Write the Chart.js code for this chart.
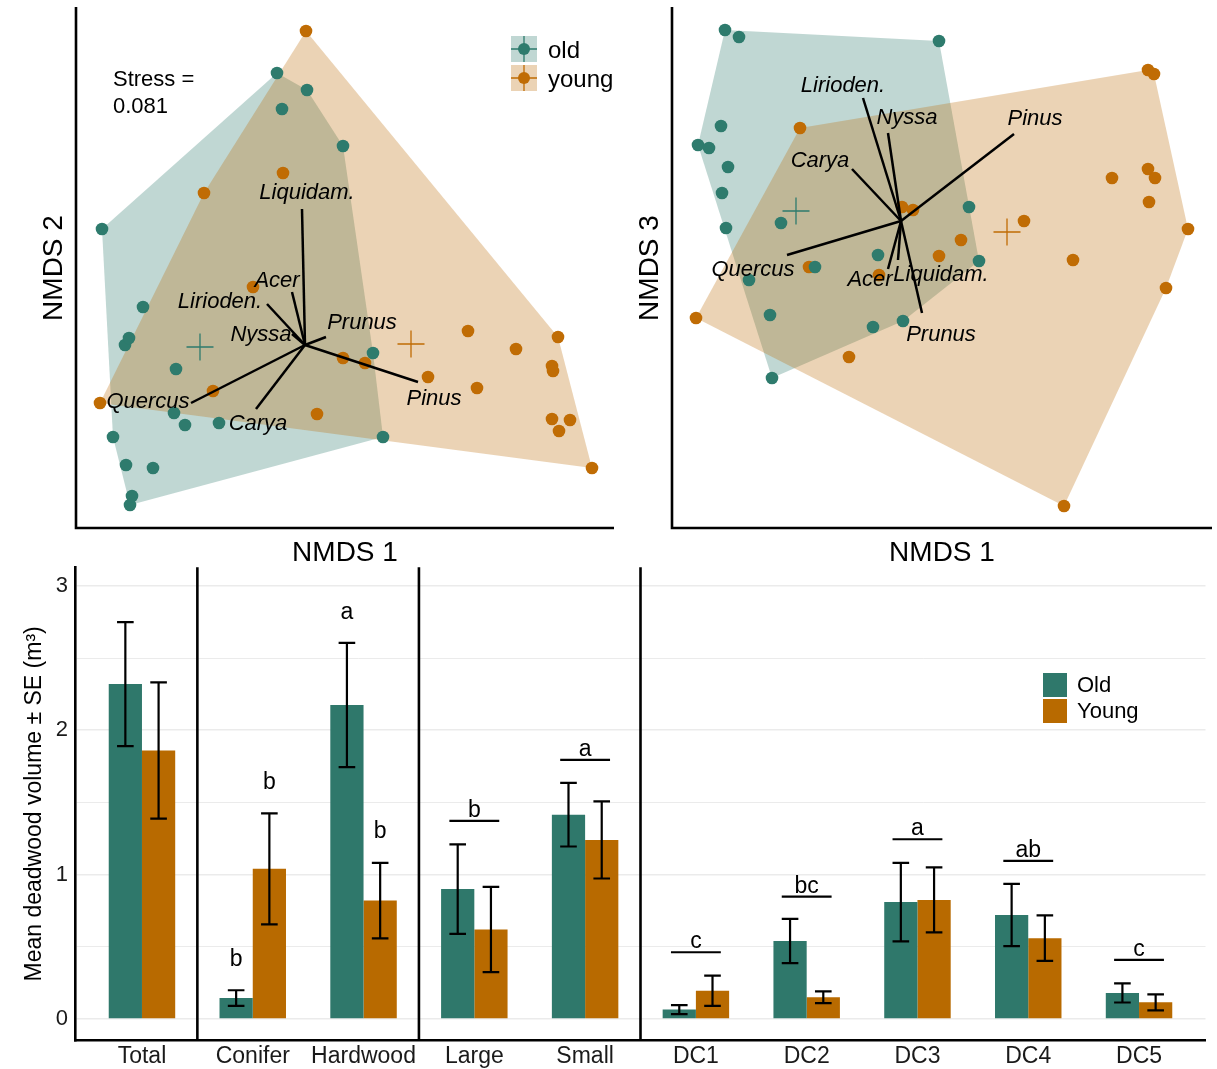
<!DOCTYPE html>
<html>
<head>
<meta charset="utf-8">
<title>Deadwood: NMDS ordination and mean volume</title>
<script src="https://cdn.jsdelivr.net/npm/chart.js@4.4.1/dist/chart.umd.min.js"></script>
<style>
  html, body { margin: 0; padding: 0; background: #fff; }
  body { position: relative; width: 1217px; height: 1069px; overflow: hidden; }
  .panel { position: absolute; }
</style>
</head>
<body>
<div class="panel" style="left:0;top:0;width:620px;height:580px"><canvas id="nmdsA"></canvas></div>
<div class="panel" style="left:596px;top:0;width:621px;height:580px"><canvas id="nmdsB"></canvas></div>
<div class="panel" style="left:0;top:560px;width:1217px;height:509px"><canvas id="bars"></canvas></div>
<script>
// NMDS site scores, old stands
const oldNmds1 = [-1.015, -0.96, -0.90, -0.895, -0.88, -0.875, -0.865, -0.81, -0.76, -0.655, -0.645, -0.60, -0.43, -0.14, -0.115, 0.01, 0.19, 0.34, 0.39];
const oldNmds2 = [0.58, -0.46, 0.0, -0.60, 0.035, -0.80, -0.755, 0.19, -0.615, -0.34, -0.12, -0.40, -0.39, 1.36, 1.18, 1.275, 0.995, -0.04, -0.46];
const oldNmds3 = [0.38, 0.365, 0.475, 0.14, 0.955, -0.035, 0.27, 0.92, -0.295, -0.47, -0.785, -0.01, -0.23, -0.53, -0.17, -0.50, 0.90, 0.07, -0.20];

// NMDS site scores, young stands
const youngNmds1 = [-1.025, -0.505, -0.46, -0.26, -0.11, 0.005, 0.06, 0.19, 0.30, 0.615, 0.815, 0.86, 1.055, 1.235, 1.24, 1.235, 1.265, 1.27, 1.325, 1.435];
const youngNmds2 = [-0.29, 0.76, -0.23, 0.29, 0.86, 1.57, -0.345, -0.065, -0.09, -0.16, 0.07, -0.215, -0.02, -0.105, -0.13, -0.37, 0.04, -0.43, -0.375, -0.615];
const youngNmds3 = [-0.485, 0.465, -0.23, -0.68, -0.27, 0.07, 0.055, -0.175, -0.095, 0.0, -1.425, -0.195, 0.215, 0.755, 0.095, 0.26, 0.735, 0.215, -0.335, -0.04];

// group centroids [old, young]
const centNmds1 = [-0.525, 0.53];
const centNmds2 = [-0.01, 0.005];
const centNmds3 = [0.05, -0.055];

// species vectors
const vecNames = ['Liquidam.', 'Acer', 'Lirioden.', 'Nyssa', 'Prunus', 'Pinus', 'Quercus', 'Carya'];
const vecNmds1 = [-0.015, -0.065, -0.19, -0.065, 0.105, 0.565, -0.57, -0.245];
const vecNmds2 = [0.68, 0.265, 0.205, 0.055, 0.04, -0.185, -0.29, -0.32];
const vecNmds3 = [-0.195, -0.24, 0.615, 0.44, -0.46, 0.435, -0.17, 0.26];
// where the species names sit in each panel
const labA1 = [0.01, -0.14, -0.425, -0.22, 0.285, 0.645, -0.785, -0.235];
const labA2 = [0.76, 0.32, 0.215, 0.05, 0.11, -0.27, -0.285, -0.395];
const labB1 = [0.20, -0.155, -0.29, 0.03, 0.20, 0.67, -0.74, -0.405];
const labB3 = [-0.27, -0.295, 0.675, 0.515, -0.57, 0.51, -0.245, 0.30];

// bar chart
const barCats = ['Total', 'Conifer', 'Hardwood', 'Large', 'Small', 'DC1', 'DC2', 'DC3', 'DC4', 'DC5'];
const oldMean = [2.32, 0.145, 2.175, 0.90, 1.415, 0.065, 0.54, 0.81, 0.72, 0.18];
const oldSE = [0.43, 0.054, 0.43, 0.31, 0.22, 0.031, 0.153, 0.272, 0.216, 0.066];
const youngMean = [1.86, 1.04, 0.82, 0.62, 1.24, 0.195, 0.15, 0.825, 0.56, 0.115];
const youngSE = [0.472, 0.385, 0.262, 0.295, 0.267, 0.105, 0.041, 0.225, 0.157, 0.055];
const yTicks = [0, 0.5, 1, 1.5, 2, 2.5, 3];
const dividers = [1.5, 3.5, 5.5];

// letters over single bars (category no., 0 = old / 1 = young, letter, baseline)
const barLetterCat = [2, 2, 3, 3];
const barLetterSeries = [0, 1, 0, 1];
const barLetterText = ['b', 'b', 'a', 'b'];
const barLetterY = [0.37, 1.595, 2.77, 1.255];
// letters over whole groups, with a line under them
const groupLetterCat = [4, 5, 6, 7, 8, 9, 10];
const groupLetterText = ['b', 'a', 'c', 'bc', 'a', 'ab', 'c'];
const groupLineY = [1.372, 1.795, 0.462, 0.848, 1.245, 1.095, 0.409];

const OLD = '#2E7B6D', YOUNG = '#C06C04';
const OLD_FILL = 'rgba(46,122,108,0.3)', YOUNG_FILL = 'rgba(190,108,10,0.3)';
const OLD_BAR = '#2F786B', YOUNG_BAR = '#B86A00';
const FONT = '"Liberation Sans", Arial, Helvetica, sans-serif';

Chart.defaults.font.family = FONT;

function convexHull(pts) {
  const p = pts.slice().sort((a, b) => a[0] - b[0] || a[1] - b[1]);
  const cross = (o, a, b) => (a[0] - o[0]) * (b[1] - o[1]) - (a[1] - o[1]) * (b[0] - o[0]);
  const lower = [], upper = [];
  for (const q of p) {
    while (lower.length >= 2 && cross(lower[lower.length - 2], lower[lower.length - 1], q) <= 0) lower.pop();
    lower.push(q);
  }
  for (let i = p.length - 1; i >= 0; i--) {
    const q = p[i];
    while (upper.length >= 2 && cross(upper[upper.length - 2], upper[upper.length - 1], q) <= 0) upper.pop();
    upper.push(q);
  }
  upper.pop(); lower.pop();
  return lower.concat(upper);
}

// hulls, species vectors, axes and titles for one ordination panel
function nmdsDecor(cfg) {
  return {
    id: 'nmdsDecor',
    beforeDatasetsDraw(chart) {
      const {ctx, scales: {x, y}} = chart;
      cfg.hulls.forEach(h => {
        const pts = convexHull(h.xs.map((v, i) => [x.getPixelForValue(v), y.getPixelForValue(h.ys[i])]));
        ctx.save();
        ctx.fillStyle = h.fill;
        ctx.beginPath();
        pts.forEach((p, i) => i ? ctx.lineTo(p[0], p[1]) : ctx.moveTo(p[0], p[1]));
        ctx.closePath();
        ctx.fill();
        ctx.restore();
      });
    },
    afterDatasetsDraw(chart) {
      const {ctx, chartArea: a, scales: {x, y}} = chart;
      ctx.save();
      // species vectors
      ctx.strokeStyle = '#000';
      ctx.lineWidth = 2.5;
      const x0 = x.getPixelForValue(0), y0 = y.getPixelForValue(0);
      vecNames.forEach((n, i) => {
        ctx.beginPath();
        ctx.moveTo(x0, y0);
        ctx.lineTo(x.getPixelForValue(vecNmds1[i]), y.getPixelForValue(cfg.vecY[i]));
        ctx.stroke();
      });
      ctx.fillStyle = '#000';
      ctx.font = 'italic 22px ' + FONT;
      ctx.textAlign = 'center';
      ctx.textBaseline = 'middle';
      vecNames.forEach((n, i) => {
        ctx.fillText(n, x.getPixelForValue(cfg.labX[i]), y.getPixelForValue(cfg.labY[i]));
      });
      // axis lines
      ctx.lineWidth = 2.6;
      ctx.beginPath();
      ctx.moveTo(a.left, a.top - 1);
      ctx.lineTo(a.left, a.bottom);
      ctx.lineTo(a.right, a.bottom);
      ctx.stroke();
      // axis titles
      ctx.font = '28px ' + FONT;
      ctx.textBaseline = 'alphabetic';
      ctx.fillText('NMDS 1', (a.left + a.right) / 2, a.bottom + 33);
      ctx.save();
      ctx.translate(a.left - 14, (a.top + a.bottom) / 2);
      ctx.rotate(-Math.PI / 2);
      ctx.fillText(cfg.yTitle, 0, 0);
      ctx.restore();
      if (cfg.stress) {
        ctx.font = '22px ' + FONT;
        ctx.textAlign = 'left';
        ctx.fillText('Stress =', a.left + 37, 86);
        ctx.fillText(cfg.stress, a.left + 37, 113);
      }
      if (cfg.legend) {
        const keys = [['old', OLD, OLD_FILL, 36], ['young', YOUNG, YOUNG_FILL, 65]];
        keys.forEach(([name, col, fill, top]) => {
          const kx = 511, s = 26;
          ctx.fillStyle = fill;
          ctx.fillRect(kx, top, s, s);
          ctx.strokeStyle = col;
          ctx.lineWidth = 1.3;
          ctx.beginPath();
          ctx.moveTo(kx, top + s / 2); ctx.lineTo(kx + s, top + s / 2);
          ctx.moveTo(kx + s / 2, top); ctx.lineTo(kx + s / 2, top + s);
          ctx.stroke();
          ctx.fillStyle = col;
          ctx.beginPath();
          ctx.arc(kx + s / 2, top + s / 2, 6, 0, Math.PI * 2);
          ctx.fill();
          ctx.fillStyle = '#000';
          ctx.font = '24px ' + FONT;
          ctx.textAlign = 'left';
          ctx.fillText(name, kx + 37, top + 22);
        });
      }
      ctx.restore();
    }
  };
}

function nmdsChart(id, yOld, yYoung, yCent, cfg) {
  const pts = (xs, ys) => xs.map((v, i) => ({x: v, y: ys[i]}));
  cfg.hulls = [
    {xs: oldNmds1, ys: yOld, fill: OLD_FILL},
    {xs: youngNmds1, ys: yYoung, fill: YOUNG_FILL}
  ];
  return new Chart(document.getElementById(id), {
    type: 'scatter',
    data: {
      datasets: [
        {label: 'old', data: pts(oldNmds1, yOld), pointRadius: 6.3, pointBackgroundColor: OLD, pointBorderWidth: 0},
        {label: 'young', data: pts(youngNmds1, yYoung), pointRadius: 6.3, pointBackgroundColor: YOUNG, pointBorderWidth: 0},
        {label: 'old centroid', data: [{x: centNmds1[0], y: yCent[0]}], pointStyle: 'cross', pointRadius: 13.5, pointBorderColor: OLD, pointBorderWidth: 1.3},
        {label: 'young centroid', data: [{x: centNmds1[1], y: yCent[1]}], pointStyle: 'cross', pointRadius: 13.5, pointBorderColor: YOUNG, pointBorderWidth: 1.3}
      ]
    },
    options: {
      responsive: true,
      maintainAspectRatio: false,
      animation: false,
      events: [],
      layout: {padding: cfg.pad, autoPadding: false},
      scales: {
        x: {type: 'linear', display: false, min: cfg.xMin, max: cfg.xMax},
        y: {type: 'linear', display: false, min: cfg.yMin, max: cfg.yMax}
      },
      plugins: {legend: {display: false}, tooltip: {enabled: false}}
    },
    plugins: [nmdsDecor(cfg)]
  });
}

nmdsChart('nmdsA', oldNmds2, youngNmds2, centNmds2, {
  pad: {left: 76, right: 6, top: 8, bottom: 52},
  xMin: -1.145, xMax: 1.545, yMin: -0.915, yMax: 1.685,
  vecY: vecNmds2, labX: labA1, labY: labA2,
  yTitle: 'NMDS 2', stress: '0.081', legend: true
});

nmdsChart('nmdsB', oldNmds3, youngNmds3, centNmds3, {
  pad: {left: 76, right: 5, top: 8, bottom: 52},
  xMin: -1.145, xMax: 1.555, yMin: -1.535, yMax: 1.065,
  vecY: vecNmds3, labX: labB1, labY: labB3,
  yTitle: 'NMDS 3', stress: null, legend: false
});

// error bars, group dividers, letters and legend for the bar panel
const barDecor = {
  id: 'barDecor',
  afterDatasetsDraw(chart) {
    const {ctx, chartArea: a, scales: {x, y}} = chart;
    ctx.save();
    ctx.strokeStyle = '#000';
    ctx.lineWidth = 2.2;
    [[oldMean, oldSE], [youngMean, youngSE]].forEach(([m, se], d) => {
      chart.getDatasetMeta(d).data.forEach((bar, i) => {
        const cx = bar.x, cap = bar.width * 0.25;
        const hi = y.getPixelForValue(m[i] + se[i]);
        const lo = y.getPixelForValue(m[i] - se[i]);
        ctx.beginPath();
        ctx.moveTo(cx, hi); ctx.lineTo(cx, lo);
        ctx.moveTo(cx - cap, hi); ctx.lineTo(cx + cap, hi);
        ctx.moveTo(cx - cap, lo); ctx.lineTo(cx + cap, lo);
        ctx.stroke();
      });
    });

    ctx.lineWidth = 2.6;
    dividers.forEach(v => {
      const px = x.getPixelForValue(v);
      ctx.beginPath();
      ctx.moveTo(px, a.top);
      ctx.lineTo(px, a.bottom);
      ctx.stroke();
    });

    ctx.fillStyle = '#000';
    ctx.font = '23px ' + FONT;
    ctx.textAlign = 'center';
    ctx.textBaseline = 'alphabetic';
    barLetterText.forEach((t, i) => {
      const bar = chart.getDatasetMeta(barLetterSeries[i]).data[barLetterCat[i] - 1];
      ctx.fillText(t, bar.x, y.getPixelForValue(barLetterY[i]));
    });
    ctx.lineWidth = 2.2;
    groupLetterText.forEach((t, i) => {
      const c = groupLetterCat[i];
      const ly = y.getPixelForValue(groupLineY[i]);
      ctx.beginPath();
      ctx.moveTo(x.getPixelForValue(c - 0.225), ly);
      ctx.lineTo(x.getPixelForValue(c + 0.225), ly);
      ctx.stroke();
      ctx.fillText(t, x.getPixelForValue(c), ly - 4);
    });

    // legend
    ctx.font = '22px ' + FONT;
    ctx.textAlign = 'left';
    ctx.textBaseline = 'middle';
    [['Old', OLD_BAR, 113], ['Young', YOUNG_BAR, 139]].forEach(([name, col, top]) => {
      ctx.fillStyle = col;
      ctx.fillRect(1043, top, 24, 24);
      ctx.fillStyle = '#000';
      ctx.fillText(name, 1077, top + 13);
    });
    ctx.restore();
  }
};

new Chart(document.getElementById('bars'), {
  type: 'bar',
  data: {
    datasets: [
      {label: 'Old', data: oldMean.map((v, i) => ({x: i + 1, y: v})), backgroundColor: OLD_BAR,
       borderWidth: 0, categoryPercentage: 0.6, barPercentage: 1},
      {label: 'Young', data: youngMean.map((v, i) => ({x: i + 1, y: v})), backgroundColor: YOUNG_BAR,
       borderWidth: 0, categoryPercentage: 0.6, barPercentage: 1}
    ]
  },
  options: {
    responsive: true,
    maintainAspectRatio: false,
    animation: false,
    events: [],
    layout: {padding: {left: 0, right: 11.5, top: 7.2, bottom: 0}},
    scales: {
      x: {
        type: 'linear', min: 0.4, max: 10.6, offset: false,
        grid: {display: false, drawTicks: false, offset: false},
        border: {display: true, color: '#000', width: 2.6},
        afterBuildTicks: s => { s.ticks = barCats.map((c, i) => ({value: i + 1})); },
        afterFit: s => { s.height = 28.4; s.paddingLeft = 0; s.paddingRight = 0; },
        ticks: {
          autoSkip: false, maxRotation: 0, minRotation: 0, padding: 2,
          color: '#1a1a1a', font: {size: 23},
          callback: v => barCats[v - 1] || ''
        }
      },
      y: {
        type: 'linear', min: -0.15, max: 3.13, beginAtZero: false,
        grid: {color: '#EBEBEB', drawTicks: false,
               lineWidth: c => (c.tick && Number.isInteger(c.tick.value)) ? 1.6 : 1},
        border: {display: true, color: '#000', width: 2.6},
        afterBuildTicks: s => { s.ticks = yTicks.map(v => ({value: v})); },
        afterFit: s => { s.width = 75.5; s.paddingTop = 0; s.paddingBottom = 0; },
        ticks: {
          padding: 7.5, color: '#1a1a1a', font: {size: 22},
          callback: v => Number.isInteger(v) ? String(v) : ''
        },
        title: {
          display: true, text: 'Mean deadwood volume ± SE (m³)',
          color: '#000', font: {size: 23}, padding: {top: 21, bottom: 0}
        }
      }
    },
    plugins: {legend: {display: false}, tooltip: {enabled: false}}
  },
  plugins: [barDecor]
});
</script>
</body>
</html>
